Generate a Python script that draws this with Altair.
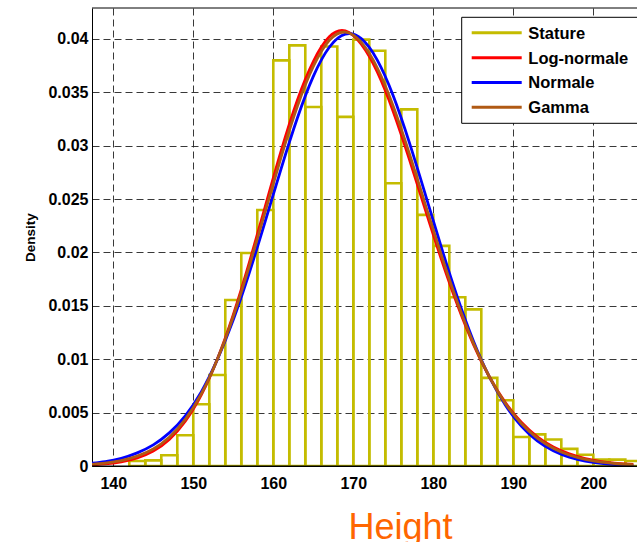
import altair as alt
import pandas as pd

# ---------------- data ----------------
bin_left = [142, 144, 146, 148, 150, 152, 154, 156, 158, 160, 162, 164, 166, 168,
            170, 172, 174, 176, 178, 180, 182, 184, 186, 188, 190, 192, 194, 196,
            198, 200, 202, 204]
bin_density = [0.00047, 0.00053, 0.00100, 0.00288, 0.00578, 0.00852, 0.01555,
               0.01995, 0.02398, 0.03799, 0.03940, 0.03362, 0.03930, 0.03270,
               0.03994, 0.03890, 0.02648, 0.03340, 0.02352, 0.02062, 0.01580,
               0.01467, 0.00825, 0.00616, 0.00272, 0.00296, 0.00248, 0.00160,
               0.00105, 0.00060, 0.00060, 0.00047]
bin_width = 2

curve_x = [137, 139, 141, 143, 145, 147, 149, 151, 153, 155, 157, 159, 161, 163,
           165, 167, 169, 171, 173, 175, 177, 179, 181, 183, 185, 187, 189, 191,
           193, 195, 197, 199, 201, 203, 205]
lognormal = [0.00009, 0.00019, 0.00039, 0.00076, 0.00140, 0.00249, 0.00420,
             0.00666, 0.00999, 0.01417, 0.01905, 0.02432, 0.02956, 0.03424,
             0.03788, 0.04020, 0.04075, 0.03951, 0.03691, 0.03319, 0.02875,
             0.02402, 0.01938, 0.01512, 0.01142, 0.00836, 0.00594, 0.00410,
             0.00274, 0.00179, 0.00114, 0.00070, 0.00042, 0.00025, 0.00014]
normal = [0.00024, 0.00042, 0.00072, 0.00123, 0.00198, 0.00310, 0.00470,
          0.00694, 0.00996, 0.01370, 0.01810, 0.02295, 0.02791, 0.03257,
          0.03649, 0.03922, 0.04045, 0.04003, 0.03802, 0.03466, 0.03031,
          0.02544, 0.02049, 0.01583, 0.01174, 0.00836, 0.00571, 0.00374,
          0.00235, 0.00142, 0.00082, 0.00046, 0.00024, 0.00012, 0.00006]
gamma = [0.00014, 0.00027, 0.00050, 0.00092, 0.00159, 0.00269, 0.00437,
         0.00675, 0.00998, 0.01401, 0.01873, 0.02386, 0.02901, 0.03368,
         0.03742, 0.03987, 0.04065, 0.03968, 0.03728, 0.03368, 0.02927,
         0.02449, 0.01975, 0.01536, 0.01153, 0.00836, 0.00586, 0.00398,
         0.00261, 0.00167, 0.00103, 0.00062, 0.00036, 0.00021, 0.00011]

series_names = ["Stature", "Log-normale", "Normale", "Gamma"]
series_colors = ["#C4BC00", "#FF0000", "#0000FF", "#B05A14"]
x_ticks = [140, 150, 160, 170, 180, 190, 200]
y_ticks = [0, 0.005, 0.01, 0.015, 0.02, 0.025, 0.03, 0.035, 0.04]

# ---------------- layout ----------------
W, H = 545, 458
FONT = "Liberation Sans"

xscale = alt.Scale(domain=[137.34, 205.46], nice=False, zero=False)
yscale = alt.Scale(domain=[0, 0.0429], nice=False, zero=False)

xaxis = alt.Axis(values=x_ticks, title="Height", titleX=308, titleY=72,
                 titleAlign="center", titleBaseline="alphabetic",
                 titleFontSize=36, titleFontWeight="normal", titleColor="#FF6600",
                 titleFont=FONT, labelPadding=9)
yaxis = alt.Axis(values=y_ticks, format="~g", title="Density", titleX=-62,
                 titleY=229, titleAngle=270, titleAlign="center",
                 titleBaseline="middle", titleFontSize=13.5,
                 titleFontWeight="bold", titleFont=FONT, labelPadding=4)

X = alt.X("x:Q", scale=xscale, axis=xaxis)
Y = alt.Y("y:Q", scale=yscale, axis=yaxis)

hist_df = pd.DataFrame({
    "x": bin_left,
    "x2": [b + bin_width for b in bin_left],
    "y": bin_density,
})

hist = alt.Chart(hist_df).mark_rect(
    fillOpacity=0, fill="white", stroke=series_colors[0], strokeWidth=2.6, clip=True
).encode(x=X, x2="x2:Q", y=Y, y2=alt.datum(0))

curve_layers = []
for vals, color in zip([lognormal, normal, gamma], series_colors[1:]):
    df = pd.DataFrame({"x": curve_x, "y": vals})
    curve_layers.append(
        alt.Chart(df).mark_line(color=color, strokeWidth=2.8,
                                interpolate="natural", clip=True)
        .encode(x=X, y=Y)
    )

one = alt.Data(values=[{}])
top_rule = alt.Chart(one).mark_rule(color="black", strokeWidth=1).encode(
    y=alt.value(0))
bottom_rule = alt.Chart(one).mark_rule(color="black", strokeWidth=1).encode(
    y=alt.datum(0, scale=yscale))

# legend box
lx0, ly0, lx1, ly1 = 369.7, 9.3, 600, 115.3
legend_box = alt.Chart(one).mark_rect(fill="white", stroke="black",
                                      strokeWidth=1).encode(
    x=alt.value(lx0), x2=alt.value(lx1), y=alt.value(ly0), y2=alt.value(ly1))

legend_layers = [legend_box]
row0, row_step = 24.8, 24.85
for i, (name, color) in enumerate(zip(series_names, series_colors)):
    ry = row0 + i * row_step
    legend_layers.append(
        alt.Chart(one).mark_rule(color=color, strokeWidth=3).encode(
            x=alt.value(379.7), x2=alt.value(429.7), y=alt.value(ry))
    )
    legend_layers.append(
        alt.Chart(one).mark_text(text=name, font=FONT, fontSize=16.5,
                                 fontWeight="bold", color="black",
                                 align="left", baseline="alphabetic").encode(
            x=alt.value(436.3), y=alt.value(ry + 5.9))
    )

chart = alt.layer(hist, *curve_layers, bottom_rule, top_rule, *legend_layers).properties(
    width=W, height=H,
    autosize=alt.AutoSizeParams(type="none"),
    padding={"left": 92, "top": 8, "right": 0, "bottom": 76},
    background="white",
).configure_view(strokeWidth=0).configure_axis(
    labelFont=FONT, labelFontSize=16, labelFontWeight="bold", labelColor="black",
    domainColor="black", domainWidth=1, ticks=False, tickSize=0,
    grid=True, gridColor="#222222", gridDash=[7, 4], gridWidth=0.9, gridOpacity=1,
    labelFlush=False, labelOverlap=False,
)

chart.save("out.html", embed_options={"renderer": "svg", "actions": False})
